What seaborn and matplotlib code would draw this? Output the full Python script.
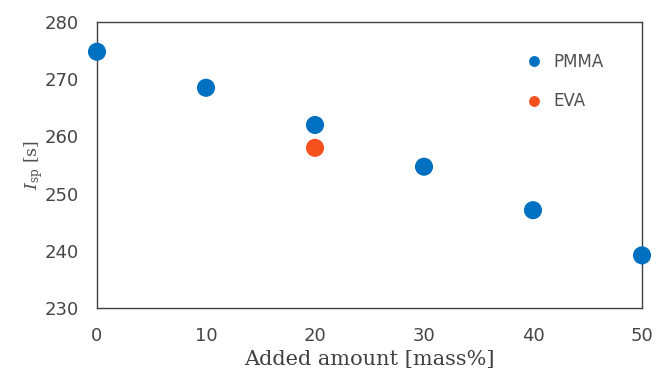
import matplotlib
matplotlib.use("Agg")
import matplotlib.pyplot as plt
import seaborn as sns
import pandas as pd

pmma_x = [0, 10, 20, 30, 40, 50]
pmma_y = [274.8, 268.5, 262.0, 254.7, 247.1, 239.2]
eva_x = [20]
eva_y = [258.0]

df = pd.DataFrame({
    "x": pmma_x + eva_x,
    "y": pmma_y + eva_y,
    "series": ["PMMA"] * len(pmma_x) + ["EVA"] * len(eva_x),
})

sns.set_style("white")
plt.rcParams['font.family'] = ['DejaVu Sans']
plt.rcParams['mathtext.fontset'] = 'dejavuserif'

fig = plt.figure(figsize=(6.67, 3.8), dpi=100)
ax = fig.add_axes([97/667, 1 - 308/380, (642-97)/667, (308-22)/380])

palette = {"PMMA": "#0070C0", "EVA": "#F4511E"}
sns.scatterplot(data=df, x="x", y="y", hue="series", palette=palette,
                s=170, edgecolor="none", ax=ax, clip_on=False, zorder=3)

ax.set_xlim(0, 50)
ax.set_ylim(230, 280)
ax.set_xticks([0, 10, 20, 30, 40, 50])
ax.set_yticks([230, 240, 250, 260, 270, 280])
for s in ax.spines.values():
    s.set_color("#404040")
    s.set_linewidth(1.0)
ax.tick_params(axis="both", direction="in", length=5, width=1, color="#404040",
               labelcolor="#454545", labelsize=13)
ax.tick_params(axis="x", pad=14)
ax.tick_params(axis="y", pad=13)

ax.set_xlabel("Added amount [mass%]", family="DejaVu Serif", fontsize=15,
              color="#404040", labelpad=3)
ax.set_ylabel(r"$I_{\rm sp}$ [s]", family="DejaVu Serif", fontsize=12.5,
              color="#505050", labelpad=0)

leg = ax.legend(frameon=False, loc="upper right", bbox_to_anchor=(0.958, 0.945),
                fontsize=12, markerscale=0.6, handletextpad=0.2, labelspacing=1.3,
                title=None)
for t in leg.get_texts():
    t.set_color("#505050")

fig.savefig("out.png", dpi=100)
